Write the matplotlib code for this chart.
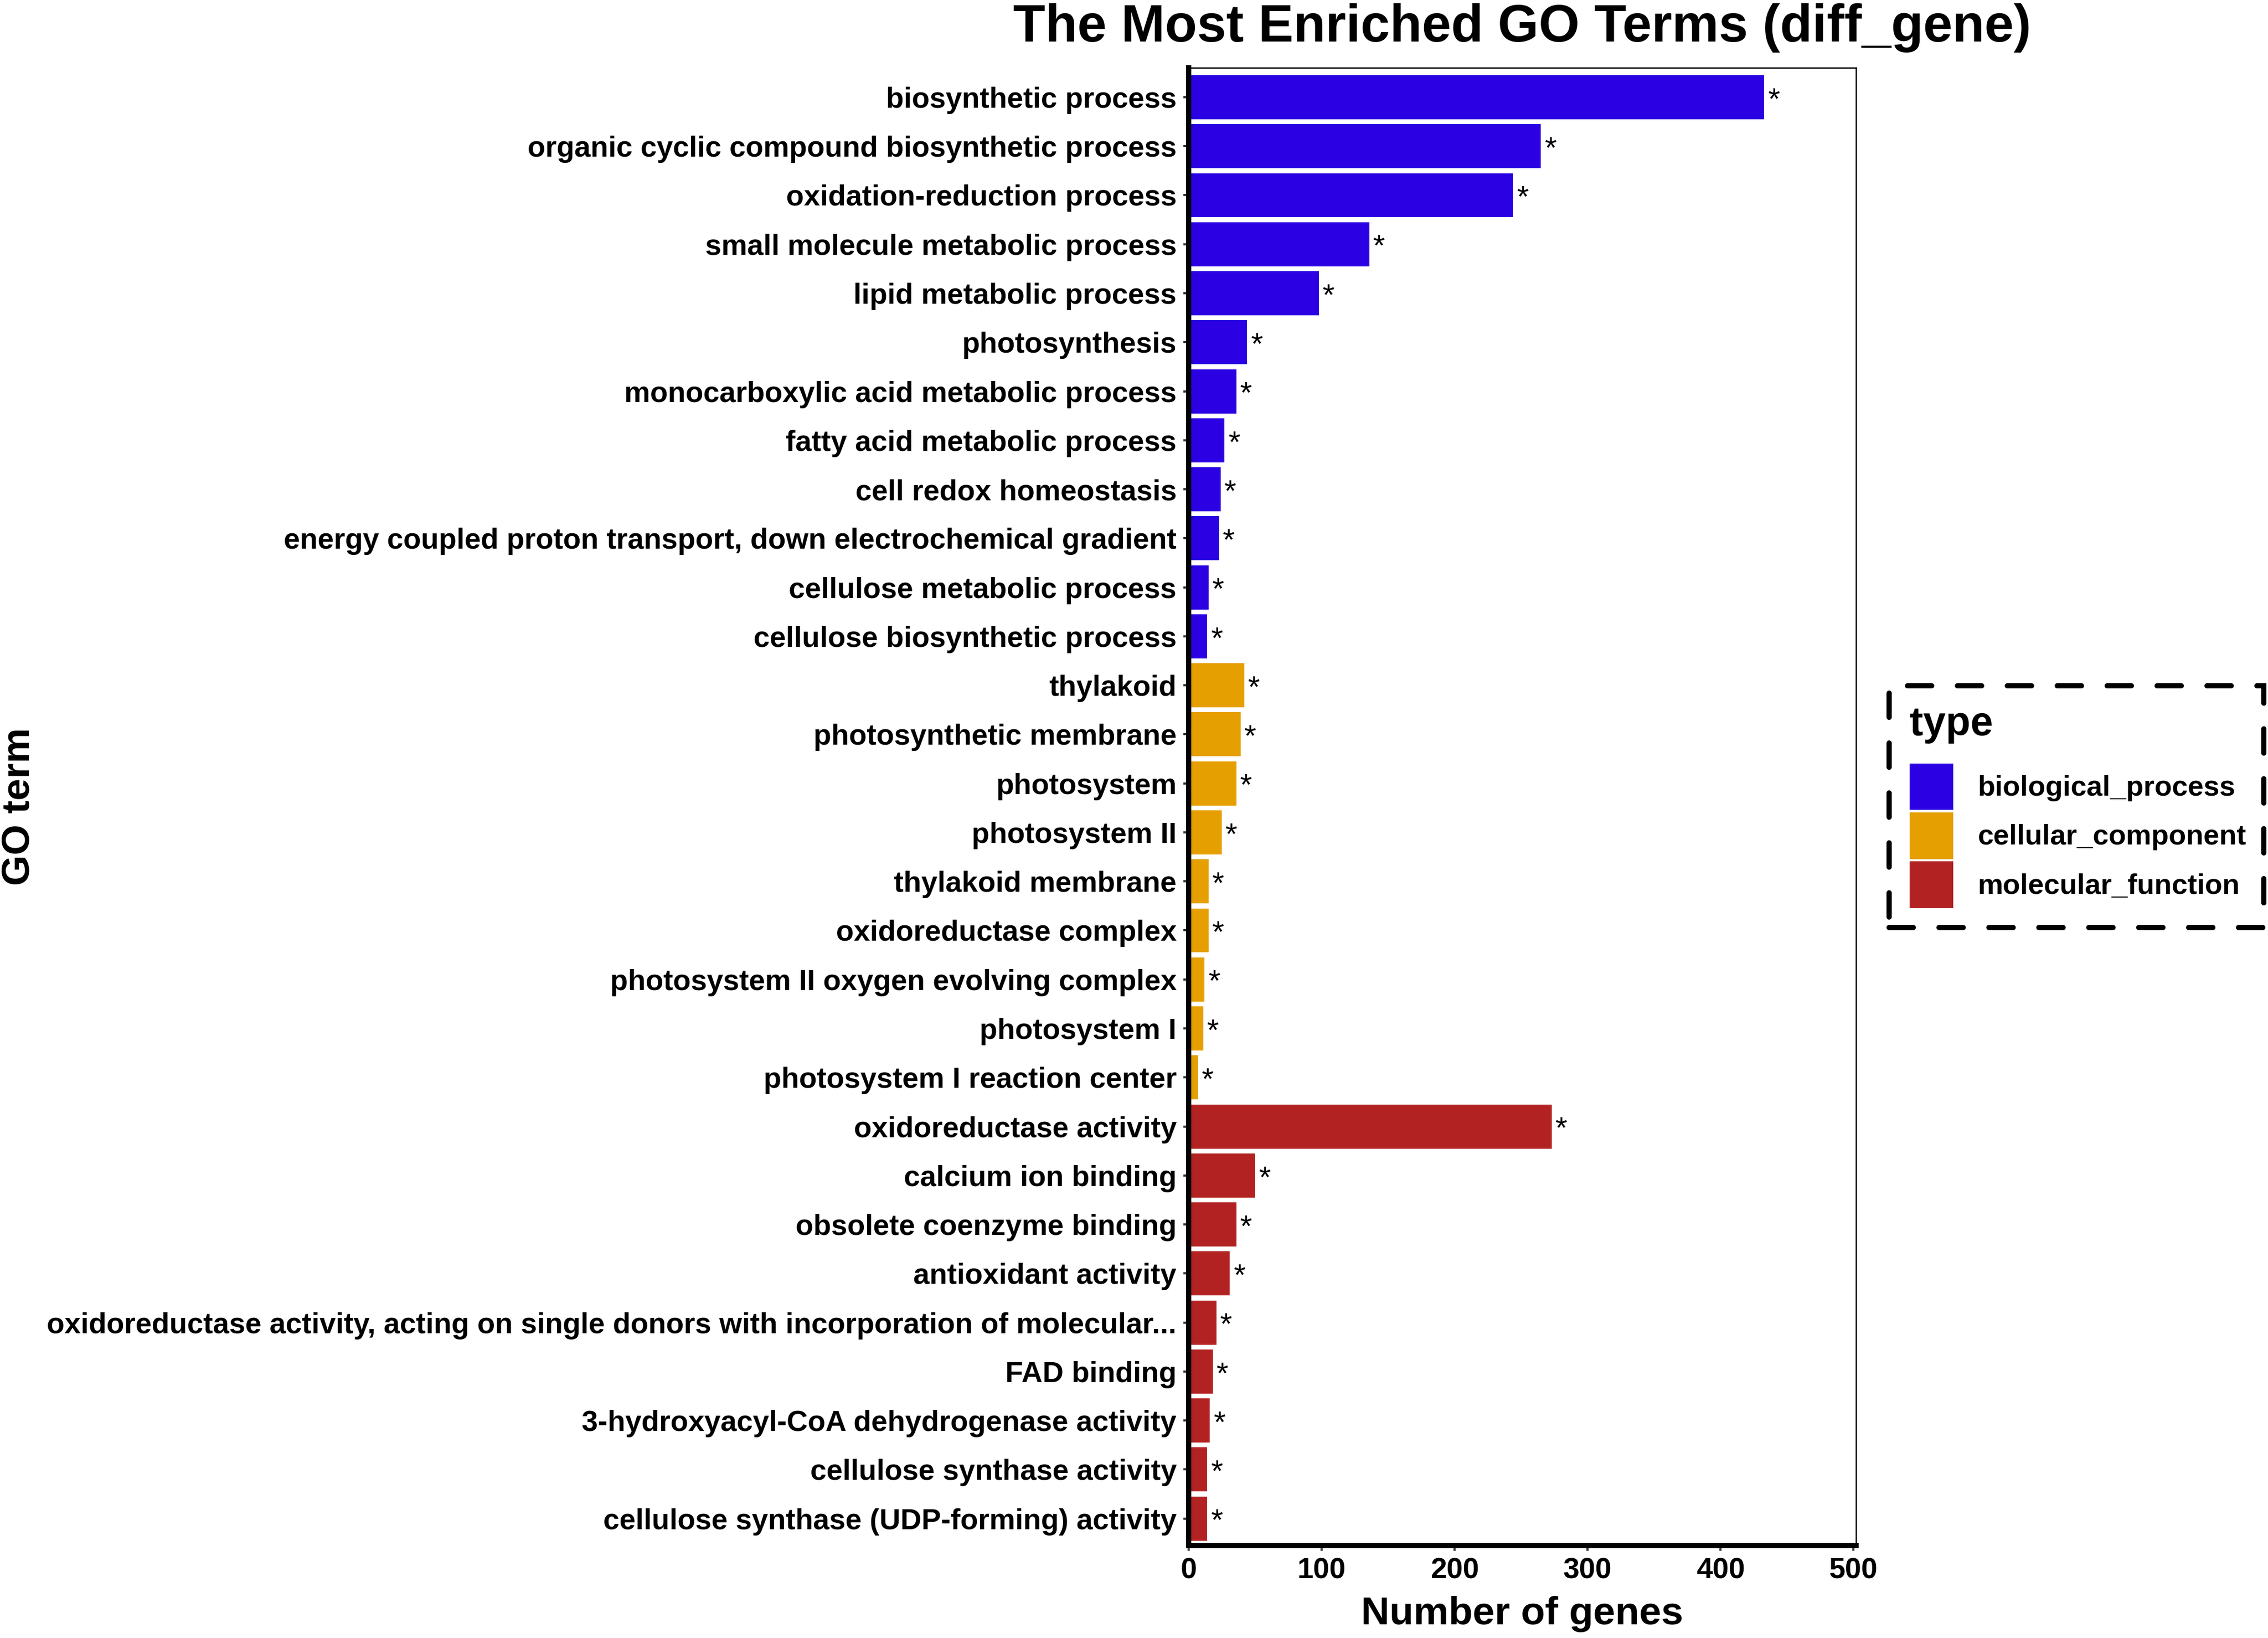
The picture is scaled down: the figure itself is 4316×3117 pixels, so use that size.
import matplotlib
matplotlib.use("Agg")
import matplotlib.pyplot as plt
from matplotlib.patches import Rectangle, Patch

plt.rcParams['font.family'] = ['Liberation Sans', 'DejaVu Sans']

terms = [
    "biosynthetic process",
    "organic cyclic compound biosynthetic process",
    "oxidation-reduction process",
    "small molecule metabolic process",
    "lipid metabolic process",
    "photosynthesis",
    "monocarboxylic acid metabolic process",
    "fatty acid metabolic process",
    "cell redox homeostasis",
    "energy coupled proton transport, down electrochemical gradient",
    "cellulose metabolic process",
    "cellulose biosynthetic process",
    "thylakoid",
    "photosynthetic membrane",
    "photosystem",
    "photosystem II",
    "thylakoid membrane",
    "oxidoreductase complex",
    "photosystem II oxygen evolving complex",
    "photosystem I",
    "photosystem I reaction center",
    "oxidoreductase activity",
    "calcium ion binding",
    "obsolete coenzyme binding",
    "antioxidant activity",
    "oxidoreductase activity, acting on single donors with incorporation of molecular...",
    "FAD binding",
    "3-hydroxyacyl-CoA dehydrogenase activity",
    "cellulose synthase activity",
    "cellulose synthase (UDP-forming) activity",
]
counts = [433, 265, 244, 136, 98, 44, 36, 27, 24, 23, 15, 14,
          42, 39, 36, 25, 15, 15, 12, 11, 7,
          273, 50, 36, 31, 21, 18, 16, 14, 14]
types = (["biological_process"] * 12 + ["cellular_component"] * 9 +
         ["molecular_function"] * 9)
type_names = ["biological_process", "cellular_component", "molecular_function"]
type_colors = {"biological_process": "#2B00E2",
               "cellular_component": "#E69F00",
               "molecular_function": "#B22222"}
xticks = [0, 100, 200, 300, 400, 500]

W, H = 4316, 3117
fig = plt.figure(figsize=(W / 300, H / 300), dpi=300)
ax = fig.add_axes([2262 / W, 1 - 2941 / H, (3532 - 2262) / W, (2941 - 129) / H])

n = len(terms)
ypos = list(range(n))
for t in type_names:
    idx = [i for i in range(n) if types[i] == t]
    ax.barh([ypos[i] for i in idx], [counts[i] for i in idx], height=0.9,
            color=type_colors[t], label=t, zorder=2)
for i in range(n):
    ax.text(counts[i] + 2.5, ypos[i] + 0.08, "*", ha="left", va="center",
            fontsize=14, color="black", zorder=3)

ax.set_ylim(n - 0.45, -0.6)
ax.set_xlim(0, 502)
ax.set_yticks(ypos)
ax.set_yticklabels(terms, fontsize=13.3, fontweight="bold")
ax.set_xticks(xticks)
ax.set_xticklabels([str(v) for v in xticks], fontsize=13.3, fontweight="bold")
ax.tick_params(axis="both", length=2.5, width=1.0, color="#333333", pad=3)

for s in ["top", "right"]:
    ax.spines[s].set_linewidth(0.6)
    ax.spines[s].set_color("black")
for s in ["left", "bottom"]:
    ax.spines[s].set_linewidth(2.4)
    ax.spines[s].set_color("black")

ax.set_xlabel("Number of genes", fontsize=18, fontweight="bold", labelpad=5)
fig.text(36 / W, 1 - 1535 / H, "GO term", rotation=90, fontsize=18,
         fontweight="bold", ha="center", va="center")
fig.text(2897 / W, 1 - 53 / H, "The Most Enriched GO Terms (diff_gene)",
         fontsize=24, fontweight="bold", ha="center", va="center")

# legend with dashed frame
frame = Rectangle((3595 / W, 1 - 1765 / H), 713 / W, 460 / H,
                  transform=fig.transFigure, fill=False, edgecolor="black",
                  linewidth=2.4, linestyle=(0, (4.6, 4.9)))
frame.set_capstyle("round")
fig.patches.append(frame)

handles = [Patch(facecolor=type_colors[t], edgecolor="none", label=t)
           for t in type_names]
leg = fig.legend(handles=handles, loc="upper left",
                 bbox_to_anchor=(3634 / W, 1 - 1342 / H),
                 bbox_transform=fig.transFigure, frameon=False,
                 title="type", alignment="left", borderpad=0, borderaxespad=0,
                 handlelength=1.54, handleheight=2.15, labelspacing=0.08,
                 handletextpad=0.85,
                 prop={"size": 13, "weight": "bold"},
                 title_fontproperties={"size": 18.5, "weight": "bold"})
leg._legend_box.sep = 9

fig.savefig("out.png", dpi=300)
